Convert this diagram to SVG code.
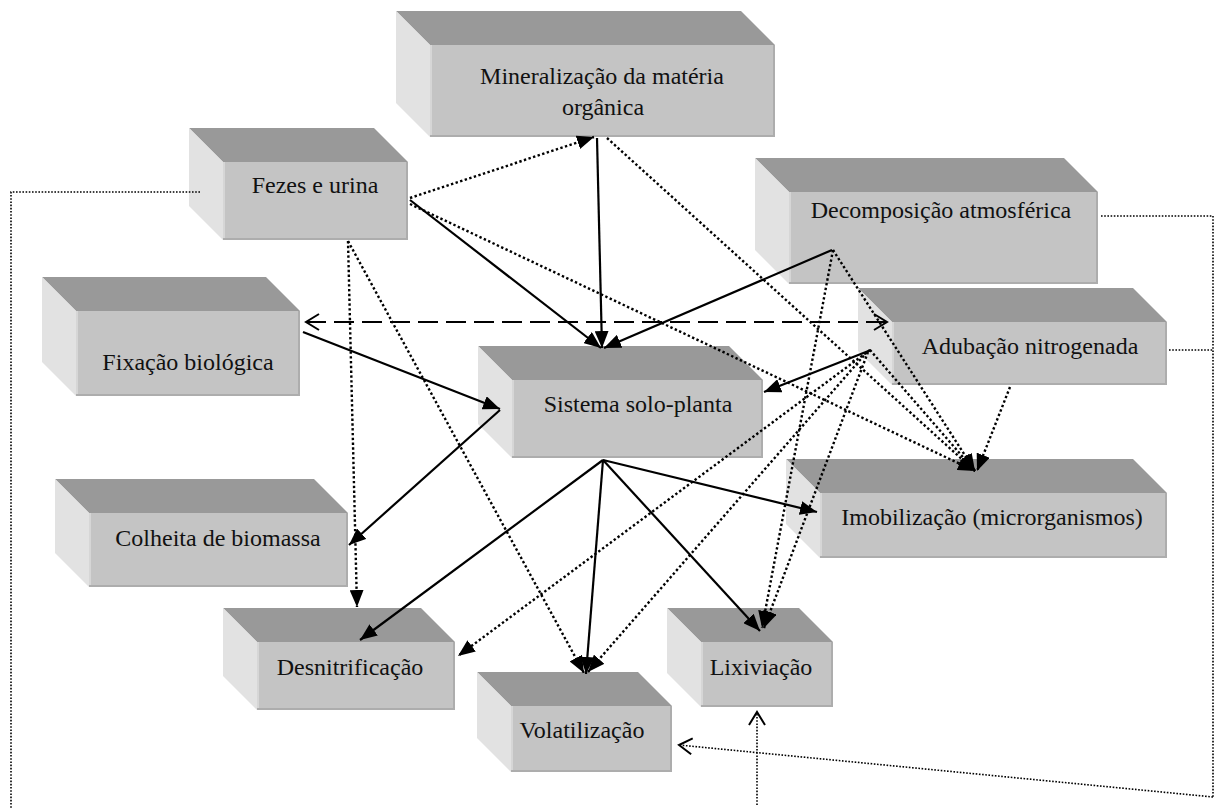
<svg xmlns="http://www.w3.org/2000/svg" width="1217" height="809" viewBox="0 0 1217 809">
<style>
.top{fill:#999999}
.left{fill:#e2e2e2}
.front{fill:#c4c4c4}
.edge{fill:#adadad}
.hl{fill:#d6d6d6}
text{font-family:"Liberation Serif","Times New Roman",serif;font-size:24px;fill:#111;text-anchor:middle}
.s{stroke:#000;stroke-width:2.2;fill:none}
.d{stroke:#000;stroke-width:2.4;fill:none;stroke-dasharray:2.4 2.4}
.f{stroke:#000;stroke-width:1.6;fill:none;stroke-dasharray:1.6 1.6}
.ld{stroke:#000;stroke-width:2.2;fill:none;stroke-dasharray:20 8}
</style>
<defs>
<marker id="ah" markerUnits="userSpaceOnUse" markerWidth="18" markerHeight="14" refX="17" refY="7" orient="auto">
<path d="M0,0 L17,7 L0,14 z" fill="#000"/>
</marker>
<marker id="oh" markerUnits="userSpaceOnUse" markerWidth="16" markerHeight="18" refX="14" refY="9" orient="auto">
<path d="M1,1 L14,9 L1,17" fill="none" stroke="#000" stroke-width="2"/>
</marker>
<marker id="ohs" markerUnits="userSpaceOnUse" markerWidth="16" markerHeight="18" refX="14" refY="9" orient="auto-start-reverse">
<path d="M1,1 L14,9 L1,17" fill="none" stroke="#000" stroke-width="2"/>
</marker>
</defs>
<rect width="1217" height="809" fill="#fff"/>

<g id="n-mineralizacao">
<polygon class="top" points="396,11 741,11 775,45 430,45"/>
<polygon class="left" points="396,11 430,45 430,137 396,103"/>
<rect class="front" x="430" y="45" width="345" height="92"/>
<rect class="hl" x="430" y="45" width="2" height="92"/>
<rect class="edge" x="773" y="45" width="2" height="92"/>
<rect class="edge" x="430" y="135" width="345" height="2"/>
<text x="602" y="84">Mineralização da matéria</text>
<text x="603" y="115">orgânica</text>
</g>

<g id="n-fezes">
<polygon class="top" points="189,128 374,128 408,162 223,162"/>
<polygon class="left" points="189,128 223,162 223,240 189,206"/>
<rect class="front" x="223" y="162" width="185" height="78"/>
<rect class="hl" x="223" y="162" width="2" height="78"/>
<rect class="edge" x="406" y="162" width="2" height="78"/>
<rect class="edge" x="223" y="238" width="185" height="2"/>
<text x="315" y="193">Fezes e urina</text>
</g>

<g id="n-decomposicao">
<polygon class="top" points="755,158 1064,158 1098,192 789,192"/>
<polygon class="left" points="755,158 789,192 789,284 755,250"/>
<rect class="front" x="789" y="192" width="309" height="92"/>
<rect class="hl" x="789" y="192" width="2" height="92"/>
<rect class="edge" x="1096" y="192" width="2" height="92"/>
<rect class="edge" x="789" y="282" width="309" height="2"/>
<text x="941" y="218">Decomposição atmosférica</text>
</g>

<g id="n-fixacao">
<polygon class="top" points="42,277 266,277 300,311 76,311"/>
<polygon class="left" points="42,277 76,311 76,396 42,362"/>
<rect class="front" x="76" y="311" width="224" height="85"/>
<rect class="hl" x="76" y="311" width="2" height="85"/>
<rect class="edge" x="298" y="311" width="2" height="85"/>
<rect class="edge" x="76" y="394" width="224" height="2"/>
<text x="188" y="370">Fixação biológica</text>
</g>

<g id="n-sistema">
<polygon class="top" points="478,346 729,346 763,380 512,380"/>
<polygon class="left" points="478,346 512,380 512,458 478,424"/>
<rect class="front" x="512" y="380" width="251" height="78"/>
<rect class="hl" x="512" y="380" width="2" height="78"/>
<rect class="edge" x="761" y="380" width="2" height="78"/>
<rect class="edge" x="512" y="456" width="251" height="2"/>
<text x="638" y="412">Sistema solo-planta</text>
</g>

<g id="n-adubacao">
<polygon class="top" points="858,288 1133,288 1167,322 892,322"/>
<polygon class="left" points="858,288 892,322 892,385 858,351"/>
<rect class="front" x="892" y="322" width="275" height="63"/>
<rect class="hl" x="892" y="322" width="2" height="63"/>
<rect class="edge" x="1165" y="322" width="2" height="63"/>
<rect class="edge" x="892" y="383" width="275" height="2"/>
<text x="1030" y="354">Adubação nitrogenada</text>
</g>

<g id="n-colheita">
<polygon class="top" points="55,479 314,479 348,513 89,513"/>
<polygon class="left" points="55,479 89,513 89,587 55,553"/>
<rect class="front" x="89" y="513" width="259" height="74"/>
<rect class="hl" x="89" y="513" width="2" height="74"/>
<rect class="edge" x="346" y="513" width="2" height="74"/>
<rect class="edge" x="89" y="585" width="259" height="2"/>
<text x="218" y="546">Colheita de biomassa</text>
</g>

<g id="n-imobilizacao">
<polygon class="top" points="786,459 1133,459 1167,493 820,493"/>
<polygon class="left" points="786,459 820,493 820,558 786,524"/>
<rect class="front" x="820" y="493" width="347" height="65"/>
<rect class="hl" x="820" y="493" width="2" height="65"/>
<rect class="edge" x="1165" y="493" width="2" height="65"/>
<rect class="edge" x="820" y="556" width="347" height="2"/>
<text x="992" y="525">Imobilização (microrganismos)</text>
</g>

<g id="n-desnitrificacao">
<polygon class="top" points="223,608 421,608 455,642 257,642"/>
<polygon class="left" points="223,608 257,642 257,710 223,676"/>
<rect class="front" x="257" y="642" width="198" height="68"/>
<rect class="hl" x="257" y="642" width="2" height="68"/>
<rect class="edge" x="453" y="642" width="2" height="68"/>
<rect class="edge" x="257" y="708" width="198" height="2"/>
<text x="350" y="675">Desnitrificação</text>
</g>

<g id="n-volatilizacao">
<polygon class="top" points="477,672 638,672 672,706 511,706"/>
<polygon class="left" points="477,672 511,706 511,772 477,738"/>
<rect class="front" x="511" y="706" width="161" height="66"/>
<rect class="hl" x="511" y="706" width="2" height="66"/>
<rect class="edge" x="670" y="706" width="2" height="66"/>
<rect class="edge" x="511" y="770" width="161" height="2"/>
<text x="582" y="738">Volatilização</text>
</g>

<g id="n-lixiviacao">
<polygon class="top" points="667,608 799,608 833,642 701,642"/>
<polygon class="left" points="667,608 701,642 701,707 667,673"/>
<rect class="front" x="701" y="642" width="132" height="65"/>
<rect class="hl" x="701" y="642" width="2" height="65"/>
<rect class="edge" x="831" y="642" width="2" height="65"/>
<rect class="edge" x="701" y="705" width="132" height="2"/>
<text x="761" y="675">Lixiviação</text>
</g>

<g id="connectors">
<!-- solid -->
<line class="s" x1="410" y1="200" x2="601" y2="348" marker-end="url(#ah)"/>
<line class="s" x1="597" y1="138" x2="602" y2="348" marker-end="url(#ah)"/>
<line class="s" x1="832" y1="250" x2="604" y2="348" marker-end="url(#ah)"/>
<line class="s" x1="303" y1="332" x2="500" y2="409" marker-end="url(#ah)"/>
<line class="s" x1="500" y1="410" x2="349" y2="545" marker-end="url(#ah)"/>
<line class="s" x1="871" y1="350" x2="764" y2="392" marker-end="url(#ah)"/>
<line class="s" x1="603" y1="460" x2="817" y2="512" marker-end="url(#ah)"/>
<line class="s" x1="603" y1="460" x2="360" y2="640" marker-end="url(#ah)"/>
<line class="s" x1="603" y1="460" x2="586" y2="674" marker-end="url(#ah)"/>
<line class="s" x1="603" y1="460" x2="760" y2="631" marker-end="url(#ah)"/>
<!-- long dashed bidirectional -->
<line class="ld" x1="306" y1="322" x2="887" y2="322" marker-start="url(#ohs)" marker-end="url(#oh)"/>
<!-- dotted -->
<line class="d" x1="410" y1="198" x2="594" y2="137" marker-end="url(#ah)"/>
<line class="d" x1="410" y1="204" x2="975" y2="471" marker-end="url(#ah)"/>
<line class="d" x1="348" y1="241" x2="357" y2="607" marker-end="url(#ah)"/>
<line class="d" x1="348" y1="241" x2="584" y2="673" marker-end="url(#ah)"/>
<line class="d" x1="607" y1="138" x2="975" y2="471" marker-end="url(#ah)"/>
<line class="d" x1="833" y1="250" x2="762" y2="628" marker-end="url(#ah)"/>
<line class="d" x1="833" y1="250" x2="975" y2="471" marker-end="url(#ah)"/>
<line class="d" x1="870" y1="350" x2="458" y2="656" marker-end="url(#ah)"/>
<line class="d" x1="867" y1="352" x2="588" y2="672" marker-end="url(#ah)"/>
<line class="d" x1="868" y1="352" x2="764" y2="628" marker-end="url(#ah)"/>
<line class="d" x1="870" y1="350" x2="975" y2="471" marker-end="url(#ah)"/>
<line class="d" x1="1010" y1="387" x2="977" y2="471" marker-end="url(#ah)"/>
<!-- feedback thin dotted -->
<polyline class="f" points="200,192 11,192 11,809"/>
<polyline class="f" points="1101,216 1213,216 1213,797"/>
<line class="f" x1="1169" y1="350" x2="1213" y2="350"/>
<line class="f" x1="1213" y1="797" x2="679" y2="745" marker-end="url(#oh)"/>
<line class="f" x1="757" y1="805" x2="757" y2="712" marker-end="url(#oh)"/>
</g>
</svg>
